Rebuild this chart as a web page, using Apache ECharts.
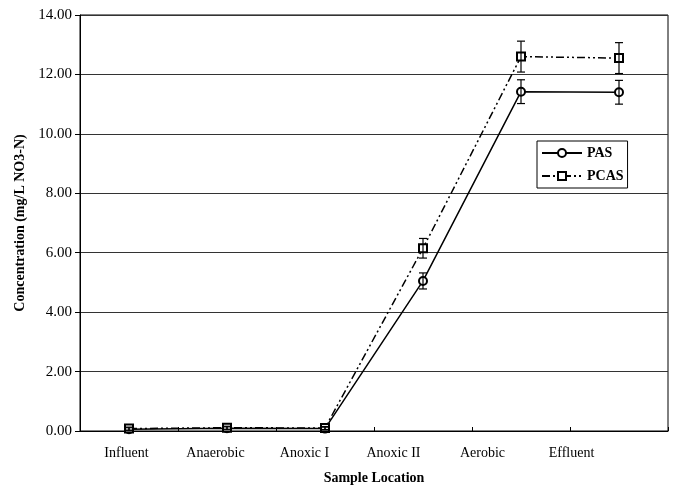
<!DOCTYPE html>
<html><head><meta charset="utf-8">
<script src="https://cdn.jsdelivr.net/npm/echarts@6/dist/echarts.min.js"></script>
<style>html,body{margin:0;padding:0;background:#fff}#c{width:676px;height:491px}</style>
</head><body><div id="c"></div>
<script>
var categories = ['Influent','Anaerobic','Anoxic I','Anoxic II','Aerobic','Effluent'];
var pasValues = [0.06, 0.09, 0.08, 5.05, 11.42, 11.40];
var pasErrors = [0.05, 0.05, 0.05, 0.27, 0.40, 0.40];
var pcasValues = [0.08, 0.11, 0.10, 6.15, 12.60, 12.55];
var pcasErrors = [0.05, 0.05, 0.05, 0.33, 0.52, 0.52];
var yTicks = {min: 0, max: 14, interval: 2};

var font = '"Liberation Serif", "Times New Roman", serif';

function errItem(params, api) {
  var x = api.value(0), y = api.value(1), e = api.value(2);
  var top = api.coord([x, y + e]);
  var bot = api.coord([x, y - e]);
  var hw = 4;
  var st = {stroke: '#000', lineWidth: 1.2};
  return {type: 'group', children: [
    {type: 'line', shape: {x1: top[0], y1: top[1], x2: bot[0], y2: bot[1]}, style: st},
    {type: 'line', shape: {x1: top[0]-hw, y1: top[1], x2: top[0]+hw, y2: top[1]}, style: st},
    {type: 'line', shape: {x1: bot[0]-hw, y1: bot[1], x2: bot[0]+hw, y2: bot[1]}, style: st}
  ]};
}
function errData(vals, errs) {
  return vals.map(function (v, i) { return [i, v, errs[i]]; });
}

var chart = echarts.init(document.getElementById('c'), null, {renderer: 'canvas'});
chart.setOption({
  animation: false,
  backgroundColor: '#fff',
  textStyle: {fontFamily: font},
  grid: [
    {left: 80, right: 8, top: 15, bottom: 60, show: true, borderColor: '#000', borderWidth: 1},
    {left: 82, width: 534, top: 15, bottom: 60}
  ],
  legend: {
    left: 537, top: 141, orient: 'vertical',
    data: ['PAS', 'PCAS'],
    borderColor: '#000', borderWidth: 1, padding: [5, 4, 5, 4],
    itemWidth: 40, itemHeight: 10, itemGap: 9,
    textStyle: {fontFamily: font, fontSize: 14, fontWeight: 'bold', color: '#000'}
  },
  xAxis: [
    {type: 'category', gridIndex: 0, data: categories, boundaryGap: true,
     axisLine: {lineStyle: {color: '#000'}},
     axisTick: {show: true, length: 4, inside: true, lineStyle: {color: '#000'}},
     axisLabel: {show: false},
     name: 'Sample Location', nameLocation: 'middle', nameGap: 40,
     nameTextStyle: {fontFamily: font, fontSize: 14, fontWeight: 'bold', color: '#000'}},
    {type: 'category', gridIndex: 1, data: categories, boundaryGap: true,
     axisLine: {show: false}, axisTick: {show: false},
     axisLabel: {margin: 15, fontFamily: font, fontSize: 14, color: '#000'}}
  ],
  yAxis: [
    {type: 'value', gridIndex: 0, min: yTicks.min, max: yTicks.max, interval: yTicks.interval,
     axisLine: {show: true, lineStyle: {color: '#000'}},
     axisTick: {show: true, length: 5, lineStyle: {color: '#000'}},
     splitLine: {lineStyle: {color: '#333', width: 1}},
     axisLabel: {margin: 8, fontFamily: font, fontSize: 15, color: '#000',
       formatter: function (v) { return v.toFixed(2); }},
     name: 'Concentration (mg/L NO3-N)', nameLocation: 'middle', nameGap: 53, nameRotate: 90,
     nameTextStyle: {fontFamily: font, fontSize: 14, fontWeight: 'bold', color: '#000'}},
    {type: 'value', gridIndex: 1, show: false, min: 0, max: 14}
  ],
  series: [
    {name: 'PAS', type: 'line', data: pasValues, symbol: 'emptyCircle', symbolSize: 8,
     itemStyle: {color: '#000', borderWidth: 1.2},
     lineStyle: {color: '#000', width: 1.5, type: 'solid'}, z: 3},
    {name: 'PCAS', type: 'line', data: pcasValues, symbol: 'emptyRect', symbolSize: 8,
     itemStyle: {color: '#000', borderWidth: 1.2},
     lineStyle: {color: '#000', width: 1.5, type: [8, 3, 2, 3, 2, 3]}, z: 3},
    {type: 'custom', renderItem: errItem, data: errData(pasValues, pasErrors),
     encode: {x: 0, y: 1}, z: 4, silent: true},
    {type: 'custom', renderItem: errItem, data: errData(pcasValues, pcasErrors),
     encode: {x: 0, y: 1}, z: 4, silent: true}
  ]
});
</script></body></html>
